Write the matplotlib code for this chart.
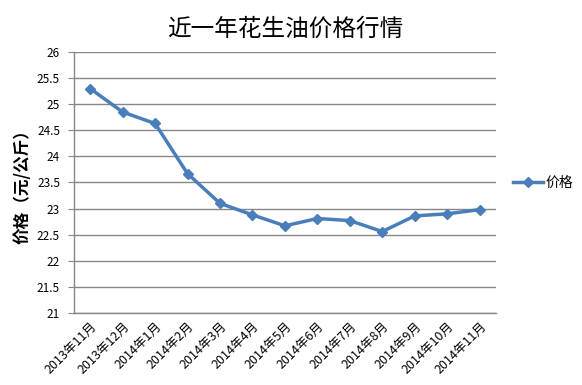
import matplotlib
matplotlib.use("Agg")
import matplotlib.pyplot as plt

plt.rcParams['font.family'] = ['Noto Sans CJK SC', 'DejaVu Sans']

# Monthly peanut oil price (yuan/kg)
months = ['2013年11月', '2013年12月', '2014年1月', '2014年2月', '2014年3月',
          '2014年4月', '2014年5月', '2014年6月', '2014年7月', '2014年8月',
          '2014年9月', '2014年10月', '2014年11月']
prices = [25.3, 24.85, 24.63, 23.67, 23.1, 22.88, 22.67, 22.81, 22.77,
          22.56, 22.86, 22.9, 22.98]

fig = plt.figure(figsize=(5.82, 3.85), dpi=100)
ax = fig.add_axes([0.127, 0.187, 0.725, 0.678])

x = list(range(len(months)))
ax.plot(x, prices, color='#4A7EBB', linewidth=2.5, marker='D',
        markersize=5.5, label='价格')

ax.set_xlim(-0.5, len(months) - 0.5)
ax.set_ylim(21, 26)
ax.set_yticks([21 + 0.5 * i for i in range(11)])
ax.set_yticklabels(['21', '21.5', '22', '22.5', '23', '23.5', '24', '24.5',
                    '25', '25.5', '26'], fontsize=8.5)
ax.set_xticks(x)
ax.set_xticklabels(months, rotation=45, ha='right', rotation_mode='anchor',
                   fontsize=9)
ax.tick_params(axis='x', length=0, pad=5)
ax.tick_params(axis='y', length=4, color='#868686', pad=6)

ax.grid(axis='y', color='#868686', linewidth=1)
ax.set_axisbelow(True)
for side in ['top', 'right']:
    ax.spines[side].set_visible(False)
for side in ['left', 'bottom']:
    ax.spines[side].set_color('#868686')
    ax.spines[side].set_linewidth(1)

ax.set_title('近一年花生油价格行情', fontsize=17, pad=12)
ax.set_ylabel('价格（元/公斤）', fontsize=12, fontweight='bold', labelpad=4)

ax.legend(loc='center left', bbox_to_anchor=(1.01, 0.5), frameon=False,
          fontsize=10, handlelength=2.2, handletextpad=0.2)

fig.savefig('out.png', dpi=100)
